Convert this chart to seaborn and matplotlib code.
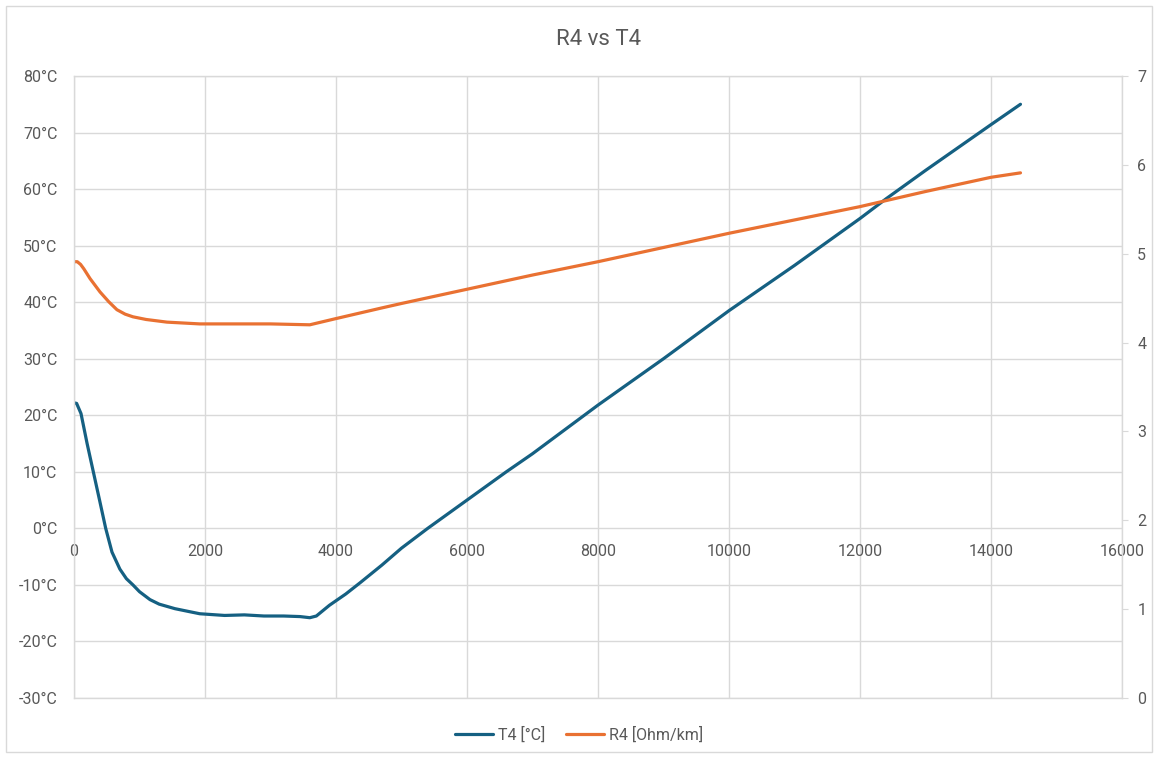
import matplotlib
matplotlib.use("Agg")
import matplotlib.pyplot as plt
import seaborn as sns
from matplotlib.patches import Rectangle

# Dados
tempo_t4 = [0, 40, 107, 200, 295, 390, 484, 580, 700, 800, 900, 1000, 1160, 1300, 1540,
            1750, 1920, 2300, 2600, 2900, 3200, 3450, 3600, 3700, 3900, 4150, 4370, 4700,
            5000, 5400, 6000, 6600, 7000, 8000, 9000, 10000, 11000, 12000, 12400, 13000,
            14000, 14450]
t4 = [22.2, 22.1, 20.3, 15.0, 10.0, 5.0, 0.0, -4.2, -7.2, -8.9, -10.0, -11.2, -12.6, -13.4, -14.2,
      -14.7, -15.1, -15.4, -15.3, -15.5, -15.5, -15.6, -15.8, -15.5, -13.6, -11.6, -9.6, -6.5,
      -3.5, 0.0, 5.0, 10.0, 13.2, 21.8, 30.0, 38.5, 46.5, 54.8, 58.3, 63.3,
      71.4, 75.0]

tempo_r4 = [0, 50, 100, 150, 245, 397, 530, 655, 780, 900, 1100, 1420, 1920, 2500, 3000,
            3600, 4000, 4700, 5000, 6000, 7000, 8000, 9000, 10000, 11000, 12000,
            13000, 14000, 14450]
r4 = [4.91, 4.91, 4.88, 4.83, 4.72, 4.57, 4.46, 4.37, 4.32, 4.29, 4.26, 4.23, 4.21, 4.21, 4.21,
      4.20, 4.27, 4.39, 4.44, 4.60, 4.76, 4.91, 5.07, 5.23, 5.38, 5.53,
      5.70, 5.86, 5.91]

ticks_x = list(range(0, 16001, 2000))
ticks_t = list(range(-30, 81, 10))
ticks_r = list(range(0, 8))

cor_texto = "#595959"
cor_grade = "#D9D9D9"
azul = "#156082"
laranja = "#E97132"

sns.set_theme(style="white")
plt.rcParams['font.family'] = ['Roboto', 'DejaVu Sans']

fig = plt.figure(figsize=(11.58, 7.58), dpi=100)
ax = fig.add_axes([74/1158, 1 - 698/758, 1048/1158, 622/758])
ax2 = ax.twinx()

sns.lineplot(x=tempo_t4, y=t4, ax=ax, color=azul, linewidth=2.3, label="T4 [°C]")
sns.lineplot(x=tempo_r4, y=r4, ax=ax2, color=laranja, linewidth=2.3, label="R4 [Ohm/km]")

ax.set_xlim(0, 16000)
ax.set_ylim(-30, 80)
ax2.set_ylim(0, 7)
ax.set_xticks(ticks_x)
ax.set_yticks(ticks_t)
ax.set_yticklabels([f"{v}°C" for v in ticks_t])
ax2.set_yticks(ticks_r)

# grade
ax.grid(True, color=cor_grade, linewidth=1.0)
ax.set_axisbelow(True)

# eixo x cruza em 0 °C
ax.spines['bottom'].set_position(('data', 0))
for s in ax.spines.values():
    s.set_visible(False)
for s in ax2.spines.values():
    s.set_color(cor_grade)
    s.set_linewidth(1.0)

ax.tick_params(axis='x', length=0, pad=11, labelsize=11.5, labelcolor=cor_texto)
ax.tick_params(axis='y', length=0, pad=12, labelsize=11.5, labelcolor=cor_texto)
ax2.tick_params(axis='y', length=4, width=0.8, color=cor_grade, pad=7,
                labelsize=11.5, labelcolor=cor_texto)

ax.set_xlabel("")
ax.set_ylabel("")
ax2.set_ylabel("")

ax.set_title("R4 vs T4", fontsize=16, color=cor_texto, pad=22)

# legenda
linhas = ax.get_lines()[:1] + ax2.get_lines()[:1]
ax.get_legend().remove()
ax2.get_legend().remove()
fig.legend(linhas, ["T4 [°C]", "R4 [Ohm/km]"], loc='center', bbox_to_anchor=(0.5, 0.031),
           ncol=2, frameon=False, fontsize=11.5, labelcolor=cor_texto,
           handlelength=2.4, handletextpad=0.3, columnspacing=1.3)

fig.patches.append(Rectangle((6/1158, 6/758), 1146/1158, 746/758, transform=fig.transFigure,
                             fill=False, edgecolor=cor_grade, linewidth=1.0))

fig.savefig("out.png", dpi=100)
